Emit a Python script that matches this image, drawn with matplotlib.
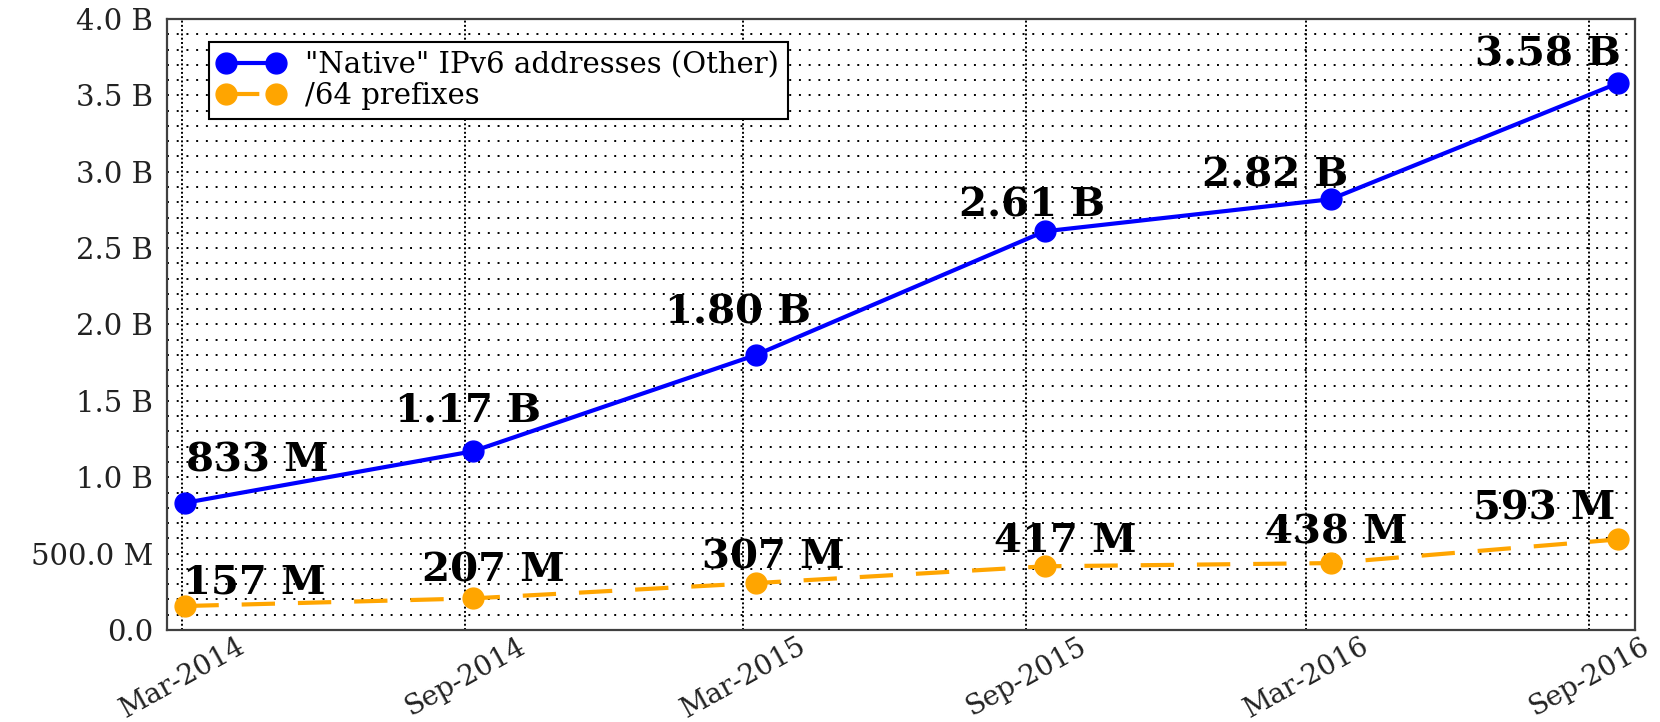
import pandas as pd
import matplotlib.pyplot as plt
from matplotlib.ticker import FuncFormatter, MultipleLocator

# measurement dates and values
dates = pd.to_datetime(['2014-03-03', '2014-09-06', '2015-03-09',
                        '2015-09-13', '2016-03-17', '2016-09-20'])
native = [833e6, 1.17e9, 1.80e9, 2.61e9, 2.82e9, 3.58e9]
prefixes = [157e6, 207e6, 307e6, 417e6, 438e6, 593e6]
native_labels = ['833 M', '1.17 B', '1.80 B', '2.61 B', '2.82 B', '3.58 B']
prefix_labels = ['157 M', '207 M', '307 M', '417 M', '438 M', '593 M']
tick_dates = pd.to_datetime(['2014-03-01', '2014-09-01', '2015-03-01',
                             '2015-09-01', '2016-03-01', '2016-09-01'])
tick_labels = ['Mar-2014', 'Sep-2014', 'Mar-2015', 'Sep-2015', 'Mar-2016', 'Sep-2016']

# label nudges (pixels), placed to keep labels clear of the lines
native_nudge = [(72, 31), (-5, 30), (-18, 32), (-13, 15), (-56, 13), (-70, 18)]
prefix_nudge = [(69, 13), (20, 17), (18, 15), (21, 14), (6, 20), (-74, 20)]

plt.rcParams['font.family'] = ['DejaVu Serif']

fig = plt.figure(figsize=(16.6, 7.22), dpi=100)
ax = fig.add_axes([167 / 1660, 1 - 630 / 722, 1468 / 1660, 611 / 722])

ax.plot(dates, native, color='#0000ff', lw=3, marker='o', ms=15,
        label='"Native" IPv6 addresses (Other)', zorder=3)
ax.plot(dates, prefixes, color='#ffa500', lw=3, marker='o', ms=15,
        dashes=(8, 5.5), label='/64 prefixes', zorder=3)

for d, v, t, (dx, dy) in zip(dates, native, native_labels, native_nudge):
    ax.annotate(t, (d, v), xytext=(dx, dy), textcoords='offset pixels',
                ha='center', va='baseline', fontsize=29, fontweight='bold', zorder=4)
for d, v, t, (dx, dy) in zip(dates, prefixes, prefix_labels, prefix_nudge):
    ax.annotate(t, (d, v), xytext=(dx, dy), textcoords='offset pixels',
                ha='center', va='baseline', fontsize=29, fontweight='bold', zorder=4)

ax.set_xlim(pd.Timestamp('2014-02-19'), pd.Timestamp('2016-10-01'))
ax.set_ylim(0, 4.0e9)
ax.set_xticks(tick_dates)
ax.set_xticklabels(tick_labels)
ax.yaxis.set_major_locator(MultipleLocator(0.5e9))
ax.yaxis.set_minor_locator(MultipleLocator(0.1e9))


def fmt(v, pos):
    if v == 0:
        return '0.0'
    if v < 1e9:
        return '%.1f M' % (v / 1e6)
    return '%.1f B' % (v / 1e9)


ax.yaxis.set_major_formatter(FuncFormatter(fmt))
ax.tick_params(axis='both', which='both', length=0)
ax.tick_params(axis='y', pad=10, labelsize=21, labelcolor='#222222')
ax.tick_params(axis='x', pad=2, labelsize=20, labelcolor='#222222', labelrotation=29)
plt.setp(ax.get_xticklabels(), ha='center')

ax.grid(True, axis='y', which='both', color='black', lw=1.4, linestyle=(0, (1, 4)))
ax.grid(True, axis='x', which='major', color='black', lw=1.4, linestyle=(0, (1, 1.2)))
ax.set_axisbelow(True)

for s in ax.spines.values():
    s.set_color('#404040')
    s.set_linewidth(1.6)

leg = ax.legend(loc='upper left', bbox_to_anchor=(0.0286, 0.962), borderaxespad=0,
                fontsize=21, numpoints=2, handlelength=2.3, fancybox=False,
                framealpha=1, edgecolor='black', borderpad=0.3, labelspacing=0.1,
                handletextpad=0.7)
leg.get_frame().set_linewidth(1.5)

fig.savefig('out.png', dpi=100)
